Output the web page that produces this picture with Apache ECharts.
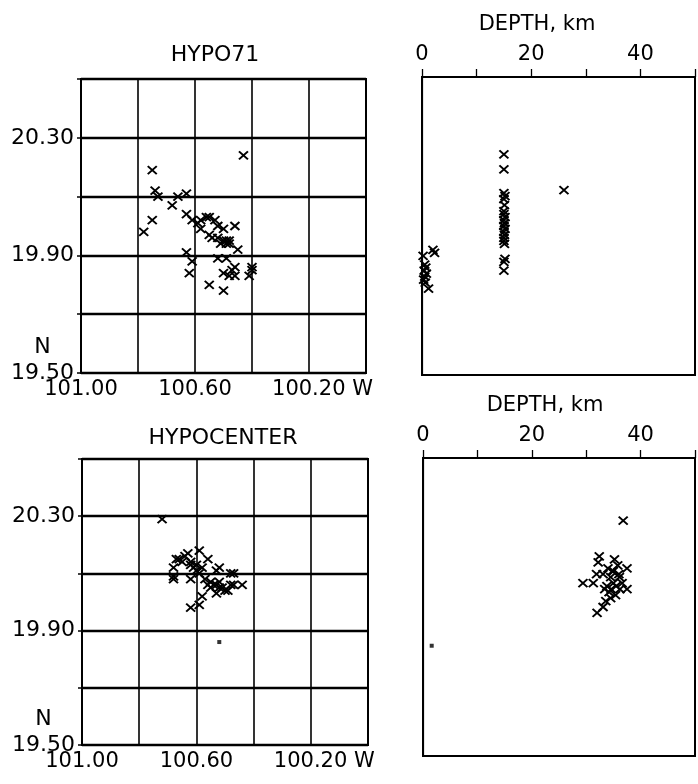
<!DOCTYPE html>
<html>
<head>
<meta charset="utf-8">
<script src="https://cdn.jsdelivr.net/npm/echarts/dist/echarts.min.js"></script>
<style>
  html, body { margin: 0; padding: 0; background: #fff; }
  #chart { width: 698px; height: 784px; }
</style>
</head>
<body>
<div id="chart"></div>
<script>
// tick labels
const lonTicks = [101.0, 100.6, 100.2];
const lonTickLabels = ['101.00', '100.60', '100.20'];
const latTicks = [20.3, 19.9, 19.5];
const latTickLabels = ['20.30', '19.90', '19.50'];
const depthTicks = [0, 20, 40];

// HYPO71 epicentres [lon W, lat N]
const hypo71Map = [
  [100.43, 20.24], [100.75, 20.19], [100.74, 20.12], [100.73, 20.10], [100.68, 20.07],
  [100.66, 20.10], [100.63, 20.11], [100.75, 20.02], [100.78, 19.98], [100.63, 20.04],
  [100.61, 20.02], [100.59, 20.01], [100.58, 20.02], [100.56, 20.03], [100.55, 20.03],
  [100.53, 20.02], [100.58, 19.99], [100.52, 20.00], [100.50, 19.99], [100.46, 20.00],
  [100.55, 19.97], [100.54, 19.96], [100.52, 19.96], [100.50, 19.95], [100.49, 19.95],
  [100.48, 19.94], [100.49, 19.94], [100.45, 19.92], [100.63, 19.91], [100.61, 19.88],
  [100.52, 19.89], [100.49, 19.89], [100.62, 19.84], [100.50, 19.84], [100.48, 19.83],
  [100.46, 19.86], [100.46, 19.83], [100.55, 19.80], [100.50, 19.78], [100.40, 19.86],
  [100.41, 19.83], [100.40, 19.85], [100.47, 19.85], [100.48, 19.95], [100.51, 19.94]
];
// HYPO71 depth [km, lat N]
const hypo71Depth = [
  [15.0, 20.24], [15.0, 20.19], [26.0, 20.12], [15.0, 20.11], [15.2, 20.10],
  [15.0, 20.09], [15.1, 20.07], [15.0, 20.05], [15.0, 20.04], [15.2, 20.03],
  [15.0, 20.02], [15.1, 20.01], [15.0, 20.00], [15.2, 19.99], [15.0, 19.98],
  [15.1, 19.97], [15.0, 19.96], [15.0, 19.95], [15.1, 19.94], [15.2, 19.89],
  [15.0, 19.88], [15.0, 19.85], [2.0, 19.92], [2.3, 19.91], [0.2, 19.90],
  [0.5, 19.87], [0.7, 19.86], [0.4, 19.85], [0.8, 19.84], [0.5, 19.83],
  [0.3, 19.82], [1.2, 19.79], [0.6, 19.81]
];
// HYPOCENTER epicentres [lon W, lat N]
const hypocenterMap = [
  [100.72, 20.29], [100.67, 20.15], [100.63, 20.17], [100.59, 20.18], [100.56, 20.15],
  [100.65, 20.14], [100.62, 20.13], [100.61, 20.12], [100.60, 20.13], [100.58, 20.12],
  [100.62, 20.14], [100.60, 20.11], [100.52, 20.12], [100.68, 20.12], [100.68, 20.08],
  [100.62, 20.08], [100.55, 20.07], [100.54, 20.06], [100.52, 20.07], [100.53, 20.06],
  [100.56, 20.06], [100.51, 20.05], [100.48, 20.10], [100.48, 20.06], [100.44, 20.06],
  [100.50, 20.04], [100.62, 19.98], [100.59, 19.99], [100.58, 20.02], [100.53, 20.03],
  [100.49, 20.04], [100.47, 20.06], [100.47, 20.10], [100.53, 20.11], [100.66, 20.15],
  [100.64, 20.16], [100.59, 20.10], [100.55, 20.05], [100.52, 20.05], [100.57, 20.08],
  [100.68, 20.09]
];
// HYPOCENTER depth [km, lat N]
const hypocenterDepth = [
  [36.8, 20.29], [32.4, 20.17], [32.2, 20.15], [35.2, 20.16], [37.5, 20.13],
  [31.9, 20.11], [33.1, 20.11], [29.4, 20.08], [31.3, 20.08], [34.0, 20.13],
  [35.0, 20.12], [35.8, 20.14], [34.5, 20.10], [36.0, 20.11], [33.8, 20.07],
  [34.6, 20.06], [35.5, 20.07], [34.2, 20.05], [36.2, 20.06], [35.0, 20.08],
  [37.5, 20.06], [36.6, 20.08], [34.5, 20.03], [33.6, 20.02], [33.1, 20.00],
  [32.0, 19.98], [36.1, 20.10], [34.8, 20.12], [33.4, 20.06], [35.4, 20.04]
];
// single event plotted as a dot
const dotMap = [[100.52, 19.86]];
const dotDepth = [[1.6, 19.87]];

const FONT = '"DejaVu Sans", sans-serif';
const crossPath = 'path://M0,0L10,10M10,0L0,10';

function near(v, list) {
  for (let i = 0; i < list.length; i++) {
    if (Math.abs(v - list[i]) < 1e-6) return i;
  }
  return -1;
}

function lonLabel(v) {
  const i = near(v, lonTicks);
  if (i < 0) return '';
  if (i === lonTicks.length - 1) return '{s|}' + lonTickLabels[i] + ' W';
  return lonTickLabels[i];
}
function latLabel(v) {
  const i = near(v, latTicks);
  if (i < 0) return '';
  if (i === latTicks.length - 1) return '{n|N}\n' + latTickLabels[i] + '\n ';
  return latTickLabels[i];
}
function depthLabel(v) {
  return near(v, depthTicks) < 0 ? '' : String(v);
}

const grids = [
  { left: 81, top: 79, width: 285, height: 294 },
  { left: 422, top: 77, width: 282, height: 298 },
  { left: 82, top: 459, width: 286, height: 296 },
  { left: 423, top: 458, width: 282, height: 298 }
].map(g => Object.assign(g, { show: true, borderColor: '#000', borderWidth: 2, containLabel: false }));

function mapX(gi) {
  return {
    type: 'value', gridIndex: gi, min: 100, max: 101, interval: 0.2, inverse: true,
    axisLine: { show: false },
    axisTick: { show: false },
    splitLine: { show: true, lineStyle: { color: '#000', width: 1.6 } },
    axisLabel: {
      formatter: lonLabel, margin: 6, color: '#000', fontFamily: FONT, fontSize: 21,
      rich: { s: { width: 27 } }
    }
  };
}
function mapY(gi) {
  return {
    type: 'value', gridIndex: gi, min: 19.5, max: 20.5, interval: 0.2,
    axisLine: { show: false },
    axisTick: { show: true, length: 4, lineStyle: { color: '#000', width: 1.5 } },
    splitLine: { show: true, lineStyle: { color: '#000', width: 2.4 } },
    axisLabel: {
      formatter: latLabel, margin: 7, color: '#000', fontFamily: FONT, fontSize: 22,
      lineHeight: 26,
      rich: { n: { align: 'center', fontFamily: FONT, fontSize: 22, lineHeight: 26, color: '#000' } }
    }
  };
}
function depthX(gi) {
  return {
    type: 'value', gridIndex: gi, position: 'top', min: 0, max: 50, interval: 10,
    axisLine: { show: true, lineStyle: { color: '#000', width: 2 } },
    axisTick: { show: true, length: 8, lineStyle: { color: '#000', width: 1.3 } },
    splitLine: { show: false },
    axisLabel: { formatter: depthLabel, margin: 12, color: '#000', fontFamily: FONT, fontSize: 21 }
  };
}
function depthY(gi) {
  return {
    type: 'value', gridIndex: gi, min: 19.5, max: 20.5, interval: 0.1,
    axisLine: { show: true, lineStyle: { color: '#000', width: 1.2 } },
    axisTick: { show: false },
    splitLine: { show: false },
    axisLabel: { show: false }
  };
}

function crosses(i, data) {
  return {
    type: 'scatter', xAxisIndex: i, yAxisIndex: i, data: data,
    symbol: crossPath, symbolSize: [9, 8], silent: true,
    itemStyle: { color: '#000', borderColor: '#000', borderWidth: 1.9, opacity: 1 }
  };
}
function dots(i, data) {
  return {
    type: 'scatter', xAxisIndex: i, yAxisIndex: i, data: data,
    symbol: 'rect', symbolSize: 4, silent: true,
    itemStyle: { color: '#000' }
  };
}

function label(text, x, y, size) {
  return {
    type: 'text', x: x, y: y,
    style: { text: text, fill: '#000', font: size + 'px ' + FONT, textAlign: 'center', textVerticalAlign: 'middle' }
  };
}

const chart = echarts.init(document.getElementById('chart'), null, { renderer: 'canvas' });
chart.setOption({
  backgroundColor: '#fff',
  animation: false,
  grid: grids,
  xAxis: [mapX(0), depthX(1), mapX(2), depthX(3)],
  yAxis: [mapY(0), depthY(1), mapY(2), depthY(3)],
  graphic: [
    label('HYPO71', 215, 55, 22),
    label('DEPTH, km', 537, 25, 21),
    label('HYPOCENTER', 223, 438, 22),
    label('DEPTH, km', 545, 406, 21)
  ],
  series: [
    crosses(0, hypo71Map),
    crosses(1, hypo71Depth),
    crosses(2, hypocenterMap),
    crosses(3, hypocenterDepth),
    dots(2, dotMap),
    dots(3, dotDepth)
  ]
});
</script>
</body>
</html>
